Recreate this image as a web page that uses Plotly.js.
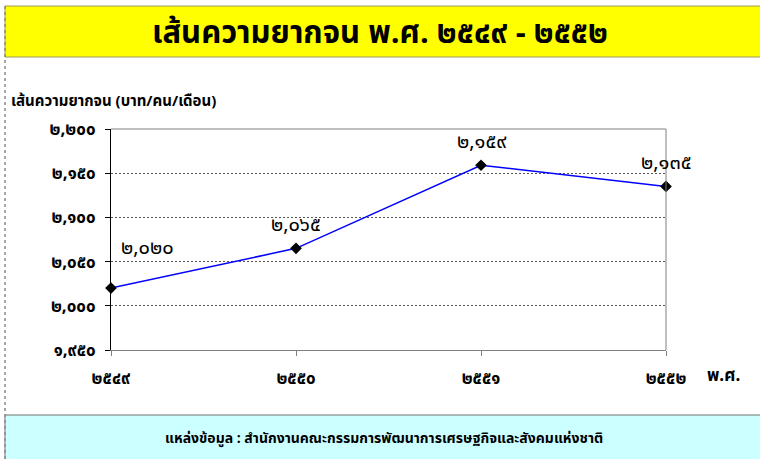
<!DOCTYPE html>
<html>
<head>
<meta charset="utf-8">
<script src="https://cdn.plot.ly/plotly-3.0.1.min.js"></script>
<style>
  html, body { margin: 0; padding: 0; background: #ffffff; }
  #chart { width: 760px; height: 459px; }
</style>
</head>
<body>
<div id="chart"></div>
<script>
// ปี พ.ศ. และเส้นความยากจน (บาท/คน/เดือน)
const years = ["๒๕๔๙", "๒๕๕๐", "๒๕๕๑", "๒๕๕๒"];
const povertyLine = [2020, 2065, 2159, 2135];
const valueLabels = ["๒,๐๒๐", "๒,๐๖๕", "๒,๑๕๙", "๒,๑๓๕"];
const yTickVals = [1950, 2000, 2050, 2100, 2150, 2200];
const yTickText = ["๑,๙๕๐", "๒,๐๐๐", "๒,๐๕๐", "๒,๑๐๐", "๒,๑๕๐", "๒,๒๐๐"];

const thaiFont = "'Noto Sans Thai', 'Noto Sans Thai UI', Loma, Tahoma, 'Noto Sans', sans-serif";

const trace = {
  type: "scatter",
  mode: "lines+markers",
  x: years,
  y: povertyLine,
  line: { color: "#0000ff", width: 1.5 },
  marker: { symbol: "diamond", size: 9, color: "#000000" },
  cliponaxis: false,
  hoverinfo: "skip",
  showlegend: false,
};

// value labels sit above each point; the first one is pushed right like in the original
const labelAnnotations = valueLabels.map((label, i) => ({
  x: years[i],
  y: povertyLine[i],
  xref: "x",
  yref: "y",
  text: label,
  showarrow: false,
  xanchor: "center",
  yanchor: "middle",
  xshift: i === 0 ? 36 : 0,
  yshift: i === 0 ? 40 : 23,
  font: { family: thaiFont, size: 20, color: "#000000" },
}));

// pixel -> paper helpers (plot area is x 111..666, y 129..350)
const px = (p) => (p - 111) / 555;
const py = (p) => (350 - p) / 221;

const layout = {
  width: 760,
  height: 459,
  margin: { l: 111, r: 94, t: 129, b: 109 },
  paper_bgcolor: "#ffffff",
  plot_bgcolor: "#ffffff",
  font: { family: thaiFont, color: "#000000" },
  xaxis: {
    type: "category",
    range: [0, 3],
    showgrid: false,
    zeroline: false,
    showline: true,
    linecolor: "#808080",
    linewidth: 1,
    ticks: "outside",
    ticklen: 5,
    tickcolor: "#808080",
    ticklabelstandoff: 8,
    tickfont: { family: thaiFont, size: 17, color: "#000000", weight: "bold" },
  },
  yaxis: {
    range: [1950, 2200],
    tickvals: yTickVals,
    ticktext: yTickText,
    showgrid: true,
    gridcolor: "#555555",
    griddash: "2px,2px",
    gridwidth: 1,
    zeroline: false,
    showline: true,
    linecolor: "#000000",
    linewidth: 1,
    ticks: "outside",
    ticklen: 5,
    tickcolor: "#000000",
    ticklabelstandoff: 6,
    tickfont: { family: thaiFont, size: 17, color: "#000000", weight: "bold" },
  },
  shapes: [
    // title band
    { type: "rect", xref: "paper", yref: "paper", layer: "below",
      x0: px(5), x1: px(762), y0: py(57), y1: py(6),
      fillcolor: "#ffff00", line: { color: "#9a9a60", width: 1 } },
    // source band
    { type: "rect", xref: "paper", yref: "paper", layer: "below",
      x0: px(5), x1: px(762), y0: py(462), y1: py(415),
      fillcolor: "#ccffff", line: { color: "#707070", width: 1 } },
    // outer frame left edge
    { type: "line", xref: "paper", yref: "paper",
      x0: px(5), x1: px(5), y0: py(459), y1: py(6),
      line: { color: "#8a8a8a", width: 1.5, dash: "dot" } },
    // top and right border of plot area
    { type: "line", xref: "paper", yref: "paper", x0: 0, x1: 1, y0: 1, y1: 1,
      line: { color: "#808080", width: 1 } },
    { type: "line", xref: "paper", yref: "paper", x0: 1, x1: 1, y0: 0, y1: 1,
      line: { color: "#808080", width: 1 } },
  ],
  annotations: [
    { xref: "paper", yref: "paper", x: px(380), y: py(33), xanchor: "center", yanchor: "middle",
      text: "เส้นความยากจน พ.ศ. ๒๕๔๙ - ๒๕๕๒", showarrow: false,
      font: { family: thaiFont, size: 31, color: "#000000", weight: "bold" } },
    { xref: "paper", yref: "paper", x: px(9), y: py(101), xanchor: "left", yanchor: "middle",
      text: "เส้นความยากจน (บาท/คน/เดือน)", showarrow: false,
      font: { family: thaiFont, size: 15, color: "#000000", weight: "bold" } },
    { xref: "paper", yref: "paper", x: px(723), y: py(376), xanchor: "center", yanchor: "middle",
      text: "พ.ศ.", showarrow: false,
      font: { family: thaiFont, size: 17, color: "#000000", weight: "bold" } },
    { xref: "paper", yref: "paper", x: px(384), y: py(438), xanchor: "center", yanchor: "middle",
      text: "แหล่งข้อมูล : สำนักงานคณะกรรมการพัฒนาการเศรษฐกิจและสังคมแห่งชาติ", showarrow: false,
      font: { family: thaiFont, size: 14, color: "#000000", weight: "bold" } },
    ...labelAnnotations,
  ],
};

Plotly.newPlot("chart", [trace], layout, { displayModeBar: false, staticPlot: true });
</script>
</body>
</html>
